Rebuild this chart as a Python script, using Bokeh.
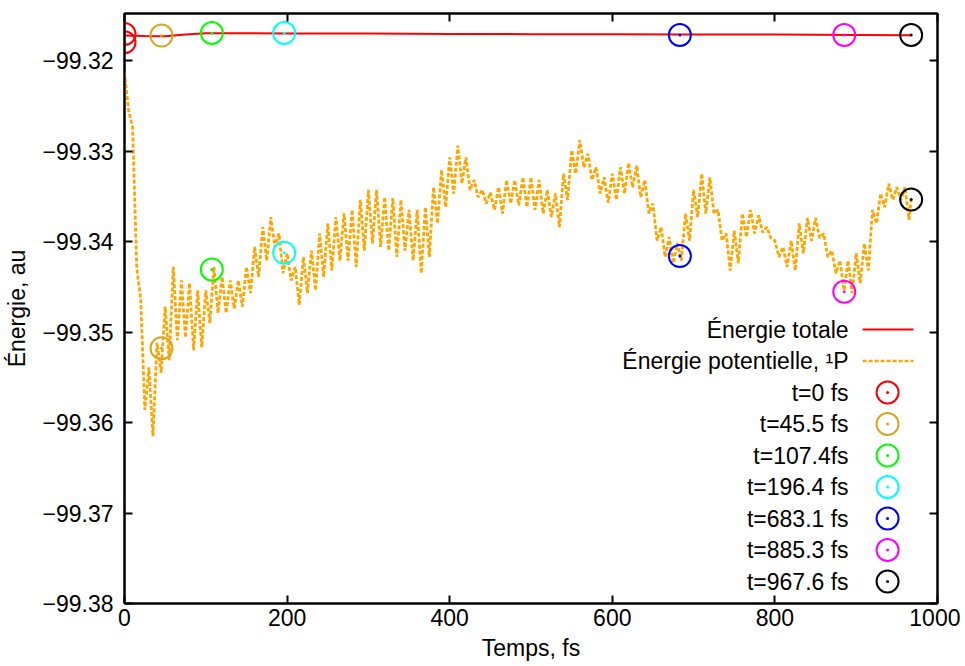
from bokeh.plotting import figure
from bokeh.models import (Range1d, LinearAxis, FixedTicker, CustomJSTickFormatter,
                          Label, ColumnDataSource)
from bokeh.embed import file_html
from bokeh.resources import INLINE

# ---------------- data ----------------
x_ticks = [0, 200, 400, 600, 800, 1000]
y_ticks = [-99.38, -99.37, -99.36, -99.35, -99.34, -99.33, -99.32]

x_label = "Temps, fs"
y_label = "Énergie, au"

total_label = "Énergie totale"
pot_label = "Énergie potentielle, ¹P"

# total energy
tot_t = [0, 25, 50, 75, 100, 150, 200, 300, 400, 500, 600, 700, 800, 900, 967.6]
tot_e = [-99.31724, -99.31730, -99.31732, -99.31713, -99.31697, -99.31697, -99.31702,
         -99.31702, -99.31706, -99.31708, -99.31710, -99.31711, -99.31713, -99.31717,
         -99.31721]

# potential energy: crests (at pot_t) and troughs (half a vibration later)
pot_t = list(range(0, 961, 10))
pot_half = 5
pot_hi = [-99.3213, -99.3274, -99.3465, -99.3539, -99.3512, -99.3472, -99.3428, -99.3443,
          -99.3446, -99.3454, -99.3454, -99.3428, -99.3439, -99.3443, -99.3443, -99.3428,
          -99.3406, -99.3384, -99.3373, -99.3391, -99.3413, -99.3428, -99.3417, -99.3410,
          -99.3391, -99.3380, -99.3373, -99.3369, -99.3365, -99.3354, -99.3343, -99.3343,
          -99.3351, -99.3352, -99.3354, -99.3365, -99.3365, -99.3362, -99.3340, -99.3321,
          -99.3307, -99.3294, -99.3307, -99.3332, -99.3343, -99.3346, -99.3340, -99.3332,
          -99.3332, -99.3329, -99.3329, -99.3332, -99.3343, -99.3347, -99.3325, -99.3299,
          -99.3288, -99.3303, -99.3318, -99.3329, -99.3325, -99.3318, -99.3313, -99.3316,
          -99.3332, -99.3358, -99.3384, -99.3395, -99.3402, -99.3369, -99.3343, -99.3325,
          -99.3329, -99.3365, -99.3391, -99.3388, -99.3369, -99.3365, -99.3371, -99.3384,
          -99.3399, -99.3406, -99.3399, -99.3380, -99.3374, -99.3374, -99.3391, -99.3410,
          -99.3421, -99.3421, -99.3413, -99.3402, -99.3365, -99.3347, -99.3336, -99.3340,
          -99.3340]
pot_lo = [-99.3255, -99.3428, -99.3586, -99.3615, -99.3545, -99.3531, -99.3509, -99.3506,
          -99.3520, -99.3517, -99.3490, -99.3479, -99.3479, -99.3474, -99.3472, -99.3457,
          -99.3439, -99.3421, -99.3406, -99.3435, -99.3443, -99.3470, -99.3457, -99.3454,
          -99.3439, -99.3432, -99.3421, -99.3421, -99.3428, -99.3410, -99.3402, -99.3406,
          -99.3410, -99.3417, -99.3410, -99.3421, -99.3435, -99.3417, -99.3380, -99.3362,
          -99.3347, -99.3336, -99.3343, -99.3351, -99.3358, -99.3365, -99.3369, -99.3358,
          -99.3360, -99.3362, -99.3365, -99.3369, -99.3373, -99.3384, -99.3354, -99.3325,
          -99.3318, -99.3332, -99.3347, -99.3357, -99.3354, -99.3347, -99.3340, -99.3351,
          -99.3369, -99.3399, -99.3417, -99.3424, -99.3421, -99.3399, -99.3373, -99.3369,
          -99.3369, -99.3399, -99.3432, -99.3424, -99.3395, -99.3391, -99.3390, -99.3396,
          -99.3417, -99.3428, -99.3432, -99.3413, -99.3399, -99.3396, -99.3417, -99.3435,
          -99.3454, -99.3457, -99.3446, -99.3432, -99.3380, -99.3362, -99.3354, -99.3354,
          -99.3376]
pot_end_t = 967.6
pot_end_e = -99.3353

# snapshot markers
mark_labels = ["t=0 fs", "t=45.5 fs", "t=107.4fs", "t=196.4 fs", "t=683.1 fs",
               "t=885.3 fs", "t=967.6 fs"]
mark_t = [0, 45.5, 107.4, 196.4, 683.1, 885.3, 967.6]
mark_e_top = [-99.31706, -99.31724, -99.31695, -99.31695, -99.31717, -99.31717, -99.31717]
mark_e_low = [-99.31798, -99.35179, -99.34308, -99.34125, -99.34161, -99.34555, -99.33536]
mark_colors = ["#ff0000", "#daa520", "#00ff00", "#00ffff", "#0000ff", "#ff00ff", "#000000"]

# ---------------- styling / layout ----------------
FONT = "Liberation Sans"
FS = "23px"
FRAME_W, FRAME_H = 814, 590
ORANGE = "#ffa500"

p = figure(width=960, height=666, output_backend="svg", toolbar_location=None,
           x_range=Range1d(0, 1000), y_range=Range1d(-99.38, -99.3148),
           min_border_left=123, min_border_right=23, min_border_top=13,
           min_border_bottom=63)
p.extra_x_ranges = {"lx": Range1d(0, FRAME_W)}
p.extra_y_ranges = {"ly": Range1d(0, FRAME_H)}

p.xgrid.visible = False
p.ygrid.visible = False
p.outline_line_color = "black"
p.outline_line_width = 2
p.background_fill_color = "white"
p.border_fill_color = "white"

def style_axis(ax, show_labels):
    ax.axis_line_width = 2
    ax.axis_line_color = "black"
    ax.major_tick_in = 8
    ax.major_tick_out = 0
    ax.major_tick_line_width = 2
    ax.minor_tick_line_color = None
    if show_labels:
        ax.major_label_text_font = FONT
        ax.major_label_text_font_size = FS
        ax.major_label_text_color = "black"
        ax.axis_label_text_font = FONT
        ax.axis_label_text_font_size = FS
        ax.axis_label_text_font_style = "normal"
        ax.axis_label_text_color = "black"
    else:
        ax.major_label_text_font_size = "1px"
        ax.major_label_text_color = None
        ax.major_label_standoff = 0

xt = FixedTicker(ticks=x_ticks)
yt = FixedTicker(ticks=y_ticks)
yfmt = CustomJSTickFormatter(code="return (tick < 0 ? '\u2212' : '') + Math.abs(tick).toFixed(2);")

p.xaxis.ticker = xt
p.yaxis.ticker = yt
p.yaxis.formatter = yfmt
p.xaxis.axis_label = x_label
p.yaxis.axis_label = y_label
style_axis(p.xaxis[0], True)
style_axis(p.yaxis[0], True)
p.xaxis.major_label_standoff = 5
p.xaxis.axis_label_standoff = 6
p.yaxis.major_label_standoff = 11
p.yaxis.axis_label_standoff = 10

top_ax = LinearAxis(ticker=xt)
style_axis(top_ax, False)
p.add_layout(top_ax, "above")
right_ax = LinearAxis(ticker=yt)
style_axis(right_ax, False)
p.add_layout(right_ax, "right")

# ---------------- data marks ----------------
p.line(tot_t, tot_e, line_color="#ff0000", line_width=2)

pot_x, pot_y = [], []
for t, h, l in zip(pot_t, pot_hi, pot_lo):
    pot_x += [t, t + pot_half]
    pot_y += [h, l]
pot_x.append(pot_end_t)
pot_y.append(pot_end_e)
p.line(pot_x, pot_y, line_color=ORANGE, line_width=2.8, line_dash="4 2")

for t, et, el, c in zip(mark_t, mark_e_top, mark_e_low, mark_colors):
    src = ColumnDataSource(dict(x=[t, t], y=[et, el]))
    p.scatter("x", "y", source=src, marker="circle", size=22, fill_color=None,
              line_color=c, line_width=2)
    p.scatter("x", "y", source=src, marker="circle", size=3, fill_color=c, line_color=None)

# ---------------- legend (gnuplot style: text right, sample on the right) ----------------
LEG_TEXT_X = 725
LEG_LINE_X = [739, 790]
LEG_MARK_X = 764
LEG_Y0 = 274
LEG_STEP = 31.5

def leg_text(i, txt):
    p.add_layout(Label(x=LEG_TEXT_X, y=LEG_Y0 - i * LEG_STEP, x_range_name="lx",
                       y_range_name="ly", text=txt, text_align="right",
                       text_baseline="middle", text_font=FONT, text_font_size=FS,
                       text_color="black"))

leg_text(0, total_label)
p.line(LEG_LINE_X, [LEG_Y0, LEG_Y0], x_range_name="lx", y_range_name="ly",
       line_color="#ff0000", line_width=2)
leg_text(1, pot_label)
y1 = LEG_Y0 - LEG_STEP
p.line(LEG_LINE_X, [y1, y1], x_range_name="lx", y_range_name="ly",
       line_color=ORANGE, line_width=2.4, line_dash="4 2")
for k, (lab, c) in enumerate(zip(mark_labels, mark_colors)):
    i = k + 2
    yy = LEG_Y0 - i * LEG_STEP
    leg_text(i, lab)
    p.scatter([LEG_MARK_X], [yy], x_range_name="lx", y_range_name="ly", marker="circle",
              size=22, fill_color=None, line_color=c, line_width=2)
    p.scatter([LEG_MARK_X], [yy], x_range_name="lx", y_range_name="ly", marker="circle",
              size=3, fill_color=c, line_color=None)

with open("out.html", "w", encoding="utf-8") as f:
    f.write(file_html(p, INLINE))
